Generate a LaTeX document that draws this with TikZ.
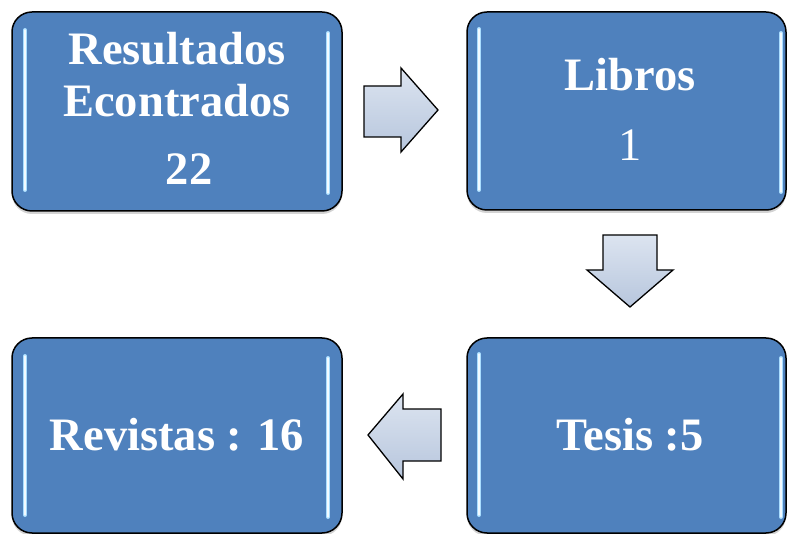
\documentclass[tikz,border=0pt]{standalone}
\usepackage{fontspec}
\setmainfont{Liberation Serif}
\usetikzlibrary{shadows}
\definecolor{boxblue}{HTML}{4F81BD}
\definecolor{glowblue}{HTML}{A9DDFF}
\definecolor{arrtop}{HTML}{DCE4F0}
\definecolor{arrbot}{HTML}{B7C6DD}
\tikzset{
  bluebox/.style={draw=black, line width=1.5pt, fill=boxblue, rounded corners=20pt,
    drop shadow={opacity=0.35, shadow xshift=0pt, shadow yshift=-3pt}},
  boxtext/.style={text=white, font=\fontsize{46.5}{52}\selectfont\bfseries, anchor=base, inner sep=0pt},
  numtext/.style={text=white, font=\fontsize{46.5}{52}\selectfont, anchor=base, inner sep=0pt},
  glow/.style={glowblue, line width=4pt, line cap=round},
  glowcore/.style={white!85!glowblue, line width=1.4pt, line cap=round},
  blockarrow/.style={draw=black, line width=1.3pt, line join=miter, top color=arrtop, bottom color=arrbot}
}
\begin{document}
\begin{tikzpicture}[x=1pt,y=-1pt]
\useasboundingbox (0,0) rectangle (787,534);
% boxes
\path[bluebox] (12,12) rectangle (342,211);
\path[bluebox] (467,12) rectangle (786,210);
\path[bluebox] (12,338) rectangle (342,533);
\path[bluebox] (467,338) rectangle (786,533);
% highlights
\foreach \xa/\ya/\yb in {25/30/190, 328/33/193, 479/29/190, 781/33/192, 25/356/515, 328/358/517, 479/354/515, 781/358/517}{
  \draw[glow] (\xa,\ya) -- (\xa,\yb);
  \draw[glowcore] (\xa,\ya) -- (\xa,\yb);
}
% texts
\node[boxtext] (t1) at (177,65) {Resultados};
\node[boxtext] (t2) at (177,117) {Econtrados};
\node[boxtext] (t3) at (189,185) {22};
\node[boxtext] (t4) at (630,91) {Libros};
\node[numtext] (t5) at (630,161) {1};
\node[boxtext] (t6) at (630,450) {Tesis :5};
\node[boxtext] (t7) at (177,450) {Revistas : 16};
% block arrows
\path[blockarrow] (364,86) -- (401,86) -- (401,68) -- (438,110) -- (401,152) -- (401,137) -- (364,137) -- cycle;
\path[blockarrow] (603,235) -- (657,235) -- (657,270) -- (673,270) -- (630,307) -- (587,270) -- (603,270) -- cycle;
\path[blockarrow] (441,409) -- (403,409) -- (403,394) -- (368,435) -- (403,479) -- (403,461) -- (441,461) -- cycle;
\end{tikzpicture}
\end{document}
